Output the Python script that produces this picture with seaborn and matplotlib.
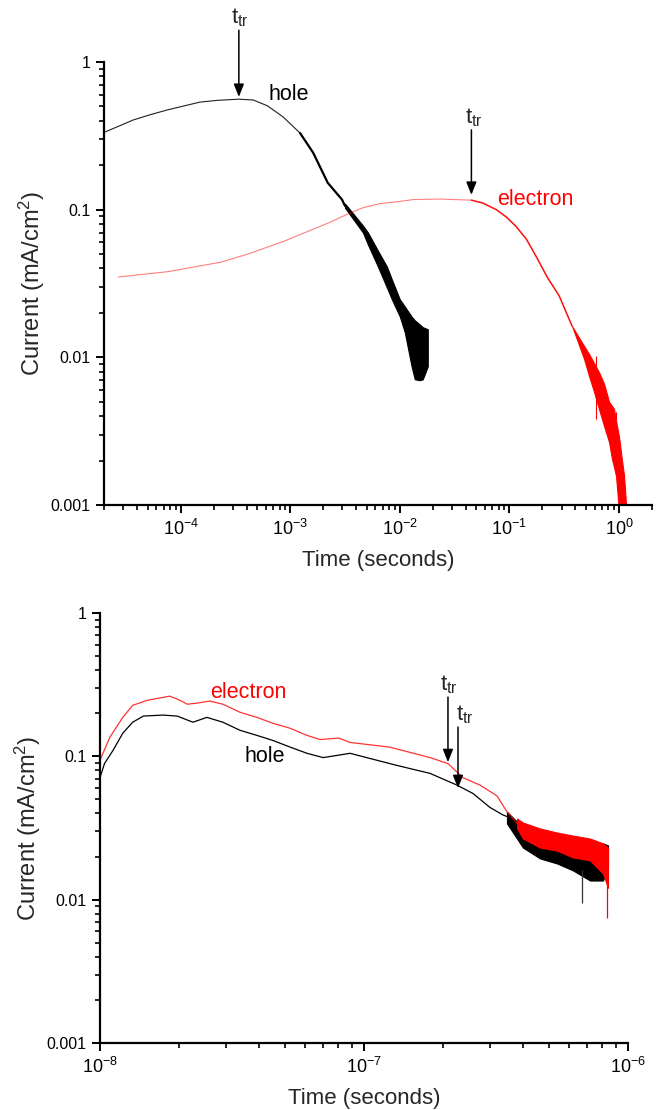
import numpy as np
import pandas as pd
import matplotlib
matplotlib.use("Agg")
import matplotlib.pyplot as plt
import matplotlib.ticker as mticker
import seaborn as sns

# ---------------- data ----------------
# Top panel: hole
hole_top_t = [2.05e-5, 3.7e-5, 5.3e-5, 7.6e-5, 1.5e-4, 2.17e-4, 3.4e-4, 4.6e-4, 6.2e-4,
              8.6e-4, 1.23e-3, 1.62e-3, 2.2e-3, 2.97e-3, 3.16e-3]
hole_top_i = [0.336, 0.405, 0.44, 0.474, 0.535, 0.55, 0.56, 0.553, 0.505,
              0.425, 0.33, 0.243, 0.152, 0.117, 0.106]
# hole noisy tail envelope
hole_band_t = [3.16e-3, 4.61e-3, 5.12e-3, 6.31e-3, 7.62e-3, 8.46e-3, 1.0e-2, 1.11e-2,
               1.28e-2, 1.37e-2, 1.52e-2, 1.62e-2, 1.80e-2]
hole_band_hi = [0.110, 0.078, 0.070, 0.0528, 0.0412, 0.0337, 0.0247, 0.0221,
                0.0189, 0.0178, 0.0167, 0.0160, 0.0155]
hole_band_lo = [0.103, 0.070, 0.058, 0.0412, 0.0297, 0.0247, 0.0189, 0.0148,
                0.0087, 0.0071, 0.0070, 0.0071, 0.0087]

# Top panel: electron
el_top_t = [2.7e-5, 7.6e-5, 2.3e-4, 4.1e-4, 8.7e-4, 2.3e-3, 3.3e-3, 4.6e-3, 6.6e-3,
            9.4e-3, 1.32e-2, 2.3e-2, 4.5e-2, 5.7e-2, 7.6e-2, 9.4e-2, 0.115, 0.143,
            0.176, 0.221, 0.285, 0.374]
el_top_i = [0.035, 0.038, 0.044, 0.050, 0.061, 0.082, 0.093, 0.103, 0.110,
            0.113, 0.117, 0.118, 0.116, 0.111, 0.100, 0.089, 0.077, 0.063,
            0.048, 0.035, 0.026, 0.0162]
el_band_t = [0.374, 0.481, 0.534, 0.593, 0.658, 0.731, 0.811, 0.863, 0.901, 0.940,
             1.0, 1.065, 1.11, 1.16]
el_band_hi = [0.0162, 0.0119, 0.0105, 0.0091, 0.0079, 0.0066, 0.0050, 0.0047,
              0.00445, 0.0037, 0.0029, 0.0020, 0.0016, 0.0010]
el_band_lo = [0.0162, 0.0097, 0.00745, 0.0058, 0.00445, 0.00342, 0.00267, 0.00205,
              0.0018, 0.00157, 0.0009, 0.0008, 0.0008, 0.0008]
el_spike_t = [0.618, 0.94]
el_spike_lo = [0.0038, 0.00167]
el_spike_hi = [0.0102, 0.00425]

# Bottom panel: electron
el_bot_t = [1.0e-8, 1.09e-8, 1.22e-8, 1.33e-8, 1.51e-8, 1.84e-8, 2.01e-8, 2.14e-8,
            2.33e-8, 2.61e-8, 2.92e-8, 3.39e-8, 3.93e-8, 4.52e-8, 5.25e-8, 6.08e-8,
            6.81e-8, 8.04e-8, 8.85e-8, 1.25e-7, 1.78e-7, 2.08e-7, 2.37e-7, 2.75e-7,
            3.19e-7, 3.48e-7, 3.80e-7]
el_bot_i = [0.094, 0.136, 0.187, 0.227, 0.246, 0.263, 0.246, 0.231,
            0.235, 0.243, 0.231, 0.203, 0.187, 0.170, 0.157, 0.140,
            0.131, 0.134, 0.125, 0.116, 0.098, 0.089, 0.071, 0.063,
            0.053, 0.041, 0.034]
el_bot_band_t = [3.80e-7, 4.0e-7, 4.64e-7, 5.38e-7, 6.19e-7, 7.18e-7, 8.04e-7, 8.40e-7]
el_bot_band_hi = [0.0368, 0.0345, 0.0314, 0.0294, 0.0280, 0.0267, 0.0247, 0.0231]
el_bot_band_lo = [0.0314, 0.0267, 0.0231, 0.0220, 0.0197, 0.0188, 0.0152, 0.0121]
el_bot_spike_t = [8.3e-7]
el_bot_spike_lo = [0.0075]
el_bot_spike_hi = [0.016]

# Bottom panel: hole
hole_bot_t = [1.0e-8, 1.04e-8, 1.12e-8, 1.22e-8, 1.33e-8, 1.46e-8, 1.73e-8, 1.96e-8,
              2.25e-8, 2.54e-8, 2.92e-8, 3.39e-8, 3.93e-8, 4.52e-8, 5.25e-8, 6.08e-8,
              7.0e-8, 8.04e-8, 8.85e-8, 1.33e-7, 1.78e-7, 2.25e-7, 2.59e-7, 3.0e-7,
              3.36e-7, 3.48e-7]
hole_bot_i = [0.071, 0.089, 0.110, 0.145, 0.173, 0.191, 0.194, 0.191,
              0.173, 0.187, 0.173, 0.152, 0.140, 0.129, 0.116, 0.105,
              0.098, 0.102, 0.105, 0.0865, 0.076, 0.063, 0.055, 0.044,
              0.039, 0.038]
hole_bot_band_t = [3.48e-7, 4.0e-7, 4.64e-7, 5.38e-7, 6.19e-7, 7.18e-7, 8.04e-7, 8.40e-7]
hole_bot_band_hi = [0.041, 0.0319, 0.0271, 0.0258, 0.0258, 0.0231, 0.0247, 0.0239]
hole_bot_band_lo = [0.034, 0.0231, 0.0194, 0.0179, 0.0160, 0.0136, 0.0136, 0.0167]
hole_bot_spike_t = [6.7e-7]
hole_bot_spike_lo = [0.0095]
hole_bot_spike_hi = [0.016]

y_ticks = [0.001, 0.01, 0.1, 1]

# ---------------- style ----------------
sns.set_style("ticks")
plt.rcParams["font.family"] = ["Liberation Sans", "DejaVu Sans"]
plt.rcParams["mathtext.fontset"] = "custom"
plt.rcParams["mathtext.rm"] = "Liberation Sans"
plt.rcParams["mathtext.it"] = "Liberation Sans:italic"
plt.rcParams["mathtext.bf"] = "Liberation Sans:bold"

RED = "#ff0000"

fig = plt.figure(figsize=(6.59, 11.10), dpi=100)
W, H = 659, 1110
ax1 = fig.add_axes([104 / W, 1 - 505 / H, (652 - 104) / W, (505 - 62) / H])
ax2 = fig.add_axes([100 / W, 1 - 1043 / H, (628 - 100) / W, (1043 - 613) / H])


def style_axes(ax, xlim):
    ax.set_xscale("log")
    ax.set_yscale("log")
    ax.set_xlim(*xlim)
    ax.set_ylim(1e-3, 1)
    sns.despine(ax=ax)
    for s in ["left", "bottom"]:
        ax.spines[s].set_linewidth(1.6)
        ax.spines[s].set_color("black")
    ax.yaxis.set_major_locator(mticker.FixedLocator(y_ticks))
    ax.yaxis.set_major_formatter(mticker.FuncFormatter(lambda v, p: "%g" % v))
    ax.yaxis.set_minor_locator(mticker.LogLocator(base=10, subs=np.arange(2, 10)))
    ax.yaxis.set_minor_formatter(mticker.NullFormatter())
    ax.xaxis.set_major_locator(mticker.LogLocator(base=10, numticks=20))
    ax.xaxis.set_major_formatter(mticker.FuncFormatter(
        lambda v, p: r"$\mathregular{10^{%d}}$" % int(round(np.log10(v)))))
    ax.xaxis.set_minor_locator(mticker.LogLocator(base=10, subs=np.arange(2, 10), numticks=20))
    ax.xaxis.set_minor_formatter(mticker.NullFormatter())
    ax.tick_params(which="major", direction="out", length=6, width=1.4,
                   color="black", labelcolor="black")
    ax.tick_params(axis="y", which="major", labelsize=11.5)
    ax.tick_params(axis="x", which="major", labelsize=13, pad=4)
    ax.tick_params(which="minor", direction="out", length=3.5, width=1.2, color="black")
    ax.set_xlabel("Time (seconds)", fontsize=16, labelpad=8)
    ax.set_ylabel("Current (mA/cm$^2$)", fontsize=17, labelpad=3)
    ax.set_facecolor("white")
    ax.grid(False)


# ---------------- top panel ----------------
k = 12  # index where the electron curve turns fully saturated
sns.lineplot(x=el_top_t[:k + 1], y=el_top_i[:k + 1], ax=ax1, color=RED, lw=0.8,
             alpha=0.5, estimator=None, sort=False)
sns.lineplot(x=el_top_t[k:], y=el_top_i[k:], ax=ax1, color=RED, lw=1.1,
             alpha=0.95, estimator=None, sort=False)
ax1.fill_between(el_band_t, el_band_lo, el_band_hi, color=RED, lw=0.8, edgecolor=RED)
ax1.vlines(el_spike_t, el_spike_lo, el_spike_hi, color=RED, lw=0.8)

sns.lineplot(x=hole_top_t, y=hole_top_i, ax=ax1, color="#202020",
             lw=0.8, estimator=None, sort=False)
j = 10  # index where the hole curve thickens
sns.lineplot(x=hole_top_t[j:], y=hole_top_i[j:], ax=ax1, color="black",
             lw=1.6, estimator=None, sort=False)
ax1.fill_between(hole_band_t, hole_band_lo, hole_band_hi, color="black", lw=0.8,
                 edgecolor="black")
style_axes(ax1, (2e-5, 2.0))

TTR = r"$\mathregular{t_{tr}}$"
arrow_kw = dict(arrowstyle="-|>,head_length=0.55,head_width=0.22", color="black",
                lw=1.1, mutation_scale=14, shrinkA=0, shrinkB=0)

ax1.annotate("", xy=(3.4e-4, 0.58), xytext=(3.4e-4, 1.64), arrowprops=arrow_kw,
             annotation_clip=False)
ax1.text(3.5e-4, 1.98, TTR, ha="center", va="center", fontsize=16, clip_on=False)
ax1.annotate("", xy=(0.045, 0.126), xytext=(0.045, 0.347), arrowprops=arrow_kw,
             annotation_clip=False)
ax1.text(0.047, 0.418, TTR, ha="center", va="center", fontsize=16)
ax1.text(9.6e-4, 0.60, "hole", ha="center", va="center", fontsize=15.5, color="black")
ax1.text(0.172, 0.117, "electron", ha="center", va="center", fontsize=15.5, color=RED)

# ---------------- bottom panel ----------------
sns.lineplot(x=hole_bot_t, y=hole_bot_i, ax=ax2, color="black", lw=0.9,
             estimator=None, sort=False)
ax2.fill_between(hole_bot_band_t, hole_bot_band_lo, hole_bot_band_hi, color="black",
                 lw=0.8, edgecolor="black")
ax2.vlines(hole_bot_spike_t, hole_bot_spike_lo, hole_bot_spike_hi, color="#333333", lw=0.9)
sns.lineplot(x=el_bot_t, y=el_bot_i, ax=ax2, color=RED, lw=0.9, alpha=0.8,
             estimator=None, sort=False)
ax2.fill_between(el_bot_band_t, el_bot_band_lo, el_bot_band_hi, color=RED, lw=0.8,
                 edgecolor=RED)
ax2.vlines(el_bot_spike_t, el_bot_spike_lo, el_bot_spike_hi, color=RED, lw=0.9)
style_axes(ax2, (1e-8, 1e-6))

ax2.annotate("", xy=(2.08e-7, 0.091), xytext=(2.08e-7, 0.259), arrowprops=arrow_kw)
ax2.text(2.1e-7, 0.314, TTR, ha="center", va="center", fontsize=16)
ax2.annotate("", xy=(2.27e-7, 0.060), xytext=(2.27e-7, 0.160), arrowprops=arrow_kw)
ax2.text(2.41e-7, 0.194, TTR, ha="center", va="center", fontsize=16)
ax2.text(3.64e-8, 0.28, "electron", ha="center", va="center", fontsize=15.5, color=RED)
ax2.text(4.22e-8, 0.10, "hole", ha="center", va="center", fontsize=15.5, color="black")

fig.savefig("out.png", dpi=100, facecolor="white")
